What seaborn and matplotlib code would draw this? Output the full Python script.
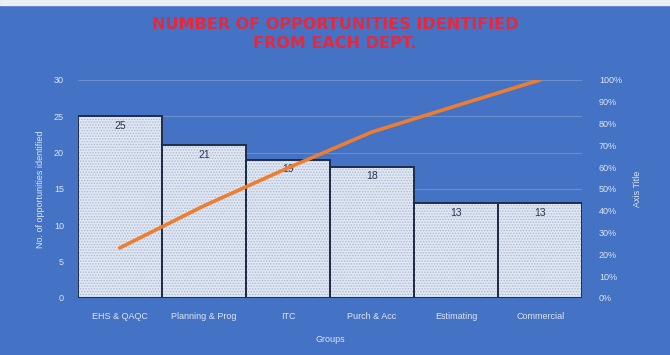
import matplotlib
matplotlib.use("Agg")
import matplotlib.pyplot as plt
import seaborn as sns
import pandas as pd
from matplotlib.ticker import PercentFormatter

groups = ["EHS & QAQC", "Planning & Prog", "ITC", "Purch & Acc", "Estimating", "Commercial"]
counts = [25, 21, 19, 18, 13, 13]
cum_pct = [22.9, 42.2, 59.6, 76.1, 88.1, 100.0]

df = pd.DataFrame({"Groups": groups, "Count": counts, "Cum": cum_pct})

sns.set_theme(style="white")
plt.rcParams["font.family"] = ["Liberation Sans", "DejaVu Sans"]
plt.rcParams["hatch.linewidth"] = 0.7

BG = "#4472C4"
TXT = "#dde6f3"

fig = plt.figure(figsize=(6.7, 3.55), dpi=100, facecolor=BG)
ax = fig.add_axes([0.116, 0.161, 0.753, 0.614])
ax.set_facecolor(BG)

sns.barplot(data=df, x="Groups", y="Count", ax=ax, width=1.0,
            color="#e1e7f1", saturation=1, linewidth=0, zorder=2)
for p in ax.patches:
    p.set_hatch("......")
    p.set_edgecolor("#a9bbd8")
    p.set_linewidth(0)
sns.barplot(data=df, x="Groups", y="Count", ax=ax, width=1.0,
            fill=False, edgecolor="#1f2d4a", linewidth=1.4, zorder=3)

for i, v in enumerate(counts):
    ax.text(i, v - 0.6, str(v), ha="center", va="top", fontsize=7.5,
            color="#2a3550", zorder=5)

ax.set_ylim(0, 30)
ax.set_yticks(range(0, 31, 5))
ax.set_xlim(-0.5, 5.5)
ax.grid(axis="y", color="#6a8fce", linewidth=0.8, zorder=0)
ax.set_axisbelow(True)
for s in ax.spines.values():
    s.set_visible(False)
ax.tick_params(axis="both", length=0, labelsize=6.5, colors=TXT, pad=10)
ax.set_xlabel("Groups", color=TXT, fontsize=6.5, labelpad=10)
ax.set_ylabel("No. of opportunities identified", color=TXT, fontsize=6.5, labelpad=6)

ax2 = ax.twinx()
sns.lineplot(data=df, x="Groups", y="Cum", ax=ax2, color="#ED7D31", linewidth=2.6,
             zorder=6, sort=False)
ax2.set_ylim(0, 100)
ax2.set_yticks(range(0, 101, 10))
ax2.yaxis.set_major_formatter(PercentFormatter(decimals=0))
for s in ax2.spines.values():
    s.set_visible(False)
ax2.tick_params(axis="y", length=0, labelsize=6.5, colors=TXT, pad=12)
ax2.set_ylabel("Axis Title", color=TXT, fontsize=6.5, labelpad=8)
ax2.set_xlabel("Groups", color=TXT, fontsize=6.5, labelpad=10)

fig.text(0.5, 0.905, "NUMBER OF OPPORTUNITIES IDENTIFIED\nFROM EACH DEPT.",
         ha="center", va="center", color="#e8283a", fontsize=11.5,
         fontweight="bold", linespacing=1.3, family="DejaVu Sans")

fig.patches.append(plt.Rectangle((0, 0.985), 1, 0.015, transform=fig.transFigure,
                                 color="#e9eef5", zorder=0))

fig.savefig("out.png", dpi=100, facecolor=BG)
